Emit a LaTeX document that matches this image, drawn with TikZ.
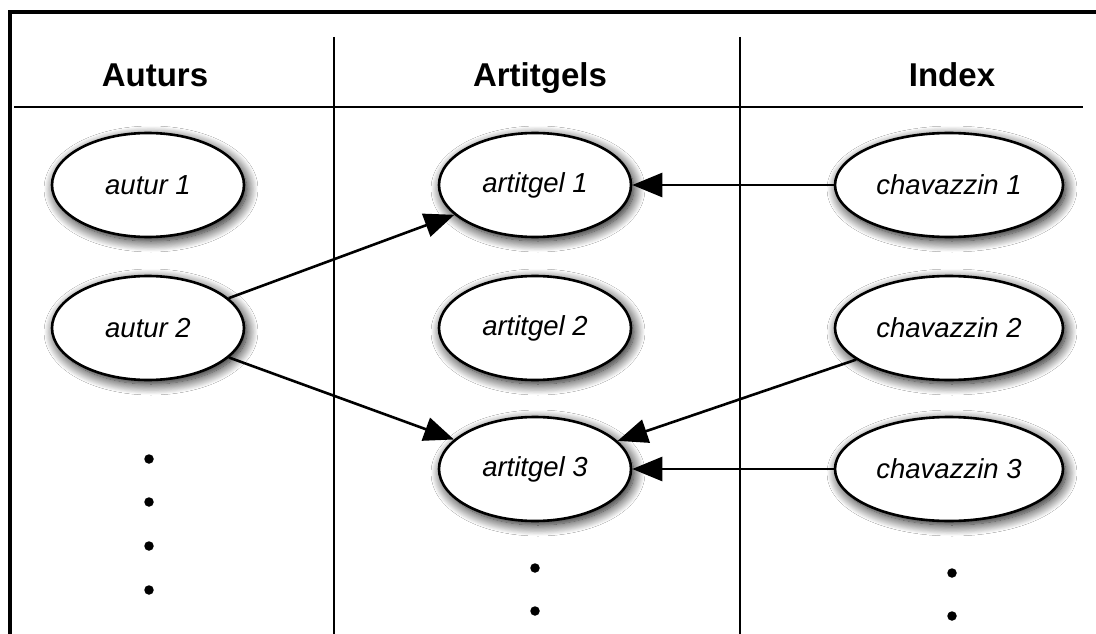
\documentclass[tikz,border=0pt]{standalone}
\usepackage{fontspec}
\setmainfont{Liberation Sans}
\usetikzlibrary{shapes.geometric,arrows.meta,shadows.blur}
\begin{document}
\begin{tikzpicture}[x=1pt,y=-1pt,
  frame/.style={line width=3.2pt,line cap=rect},
  rule/.style={line width=2.8pt},
  header/.style={font=\fontsize{33}{36}\selectfont\bfseries,inner sep=0pt,anchor=base},
  oval/.style={ellipse,draw,line width=2.6pt,fill=white,inner sep=0pt,
     minimum width=192pt,minimum height=104pt,
     font=\fontsize{27.5}{30}\selectfont\itshape,
     blur shadow={shadow xshift=3pt,shadow yshift=-4pt,shadow blur radius=11pt,shadow blur steps=14,shadow opacity=95}},
  wideoval/.style={oval,minimum width=228pt},
  link/.style={line width=2.6pt,-{Triangle[length=30pt,width=24pt]}},
  dot/.style={circle,fill=black,inner sep=0pt,minimum size=9.5pt}]
\useasboundingbox (0,0) rectangle (1096,634);
\clip (0,0) rectangle (1096,634);
\fill[white] (0,0) rectangle (1096,634);
% frame
\draw[frame] (10,640) -- (10,12) -- (1100,12);
% column rules
\draw[rule] (14,107) -- (1083,107);
\draw[rule] (334,37) -- (334,640);
\draw[rule] (740,37) -- (740,640);
% headers
\node[header] (hA) at (155,87) {Auturs};
\node[header] (hB) at (540,87) {Artitgels};
\node[header] (hC) at (952,87) {Index};
% nodes
\node[oval] (a1) at (148,185) {autur 1};
\node[oval] (a2) at (148,328) {autur 2};
\node[oval] (r1) at (535,185) {artitgel 1};
\node[oval] (r2) at (535,328) {artitgel 2};
\node[oval] (r3) at (535,469) {artitgel 3};
\node[wideoval] (c1) at (949,185) {chavazzin 1};
\node[wideoval] (c2) at (949,328) {chavazzin 2};
\node[wideoval] (c3) at (949,469) {chavazzin 3};
% connectors
\draw[link] (a2) -- (r1);
\draw[link] (a2) -- (r3);
\draw[link] (c1) -- (r1);
\draw[link] (c2) -- (r3);
\draw[link] (c3) -- (r3);
% dots
\node[dot] (da1) at (149,459) {};
\node[dot] (da2) at (149,502) {};
\node[dot] (da3) at (149,546) {};
\node[dot] (da4) at (149,590) {};
\node[dot] (db1) at (535,568) {};
\node[dot] (db2) at (535,611) {};
\node[dot] (dc1) at (952,573) {};
\node[dot] (dc2) at (952,616) {};
\end{tikzpicture}
\end{document}
